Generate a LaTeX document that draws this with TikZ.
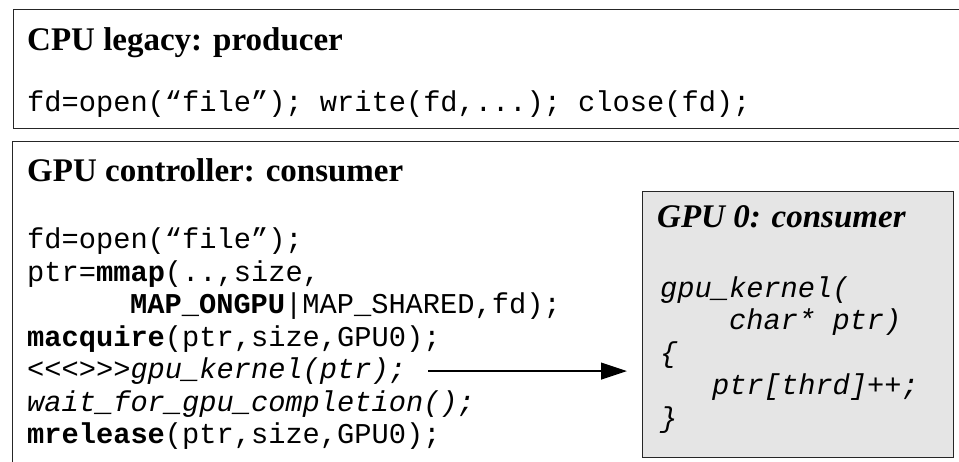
\documentclass[tikz,border=0pt]{standalone}
\usepackage{fontspec}
\setmainfont{Liberation Serif}
\setmonofont{Liberation Mono}
\usetikzlibrary{arrows.meta, positioning}
\tikzset{
	framebox/.style={
			shape=rectangle,
			draw=black!85,
			line width=1pt,
			inner sep=0pt,
			anchor=north west
		},
	gpubox/.style={
			framebox,
			fill=black!10
		},
	titletext/.style={
			font=\fontsize{33}{38}\selectfont\bfseries,
			anchor=base west,
			inner sep=0pt
		},
	codetext/.style={
			font=\fontsize{28.7}{32.5}\selectfont\ttfamily,
			anchor=base west,
			inner sep=0pt
		},
	callarrow/.style={
			-{Triangle[length=26pt, width=17pt]},
			line width=1.2pt,
			shorten <=22pt,
			shorten >=15pt
		}
}

\begin{document}
\begin{tikzpicture}[x=1pt, y=-1pt]
				\useasboundingbox (0,0) rectangle (959,461);

				% legacy producer on the CPU
				\node[framebox, minimum width=960pt, minimum height=119pt] (cpubox) at (13,9) {};
				\node[titletext] (cputitle) at (27,50) {CPU legacy: producer};
				\node[codetext] (cpucode) at (27,111) {fd=open(“file”); write(fd,...); close(fd);};

				% controller on the CPU side
				\node[framebox, minimum width=960pt, minimum height=330pt] (ctlbox) at (12,141) {};
				\node[titletext] (ctltitle) at (27,181) {GPU controller: consumer};
				\node[codetext] (open)    at (27,248.5) {fd=open(“file”);};
				\node[codetext] (mmap)    at (27,281)   {ptr=\textbf{mmap}(..,size,};
				\node[codetext] (flags)   at (130,313.5) {\textbf{MAP\_ONGPU}|MAP\_SHARED,fd);};
				\node[codetext] (acquire) at (27,346)   {\textbf{macquire}(ptr,size,GPU0);};
				\node[codetext] (launch)  at (27,378.5) {\itshape <<<>>>gpu\_kernel(ptr);};
				\node[codetext] (wait)    at (27,411)   {\itshape wait\_for\_gpu\_completion();};
				\node[codetext] (release) at (27,443.5) {\textbf{mrelease}(ptr,size,GPU0);};

				% kernel on the GPU
				\node[gpubox, minimum width=311pt, minimum height=266pt] (gpu0) at (642,191) {};
				\node[titletext] (gputitle) at (657,227) {\itshape GPU 0: consumer};
				\node[codetext] (kernel) at (660,297)   {\itshape gpu\_kernel(};
				\node[codetext] (param)  at (729,329.5) {\itshape char* ptr)};
				\node[codetext] (lbrace) at (660,362)   {\itshape \{};
				\node[codetext] (incr)   at (712,394.5) {\itshape ptr[thrd]++;};
				\node[codetext] (rbrace) at (660,427)   {\itshape \}};

				\draw[callarrow] (launch.east) -- (launch.east -| gpu0.west);

\end{tikzpicture}
\end{document}
